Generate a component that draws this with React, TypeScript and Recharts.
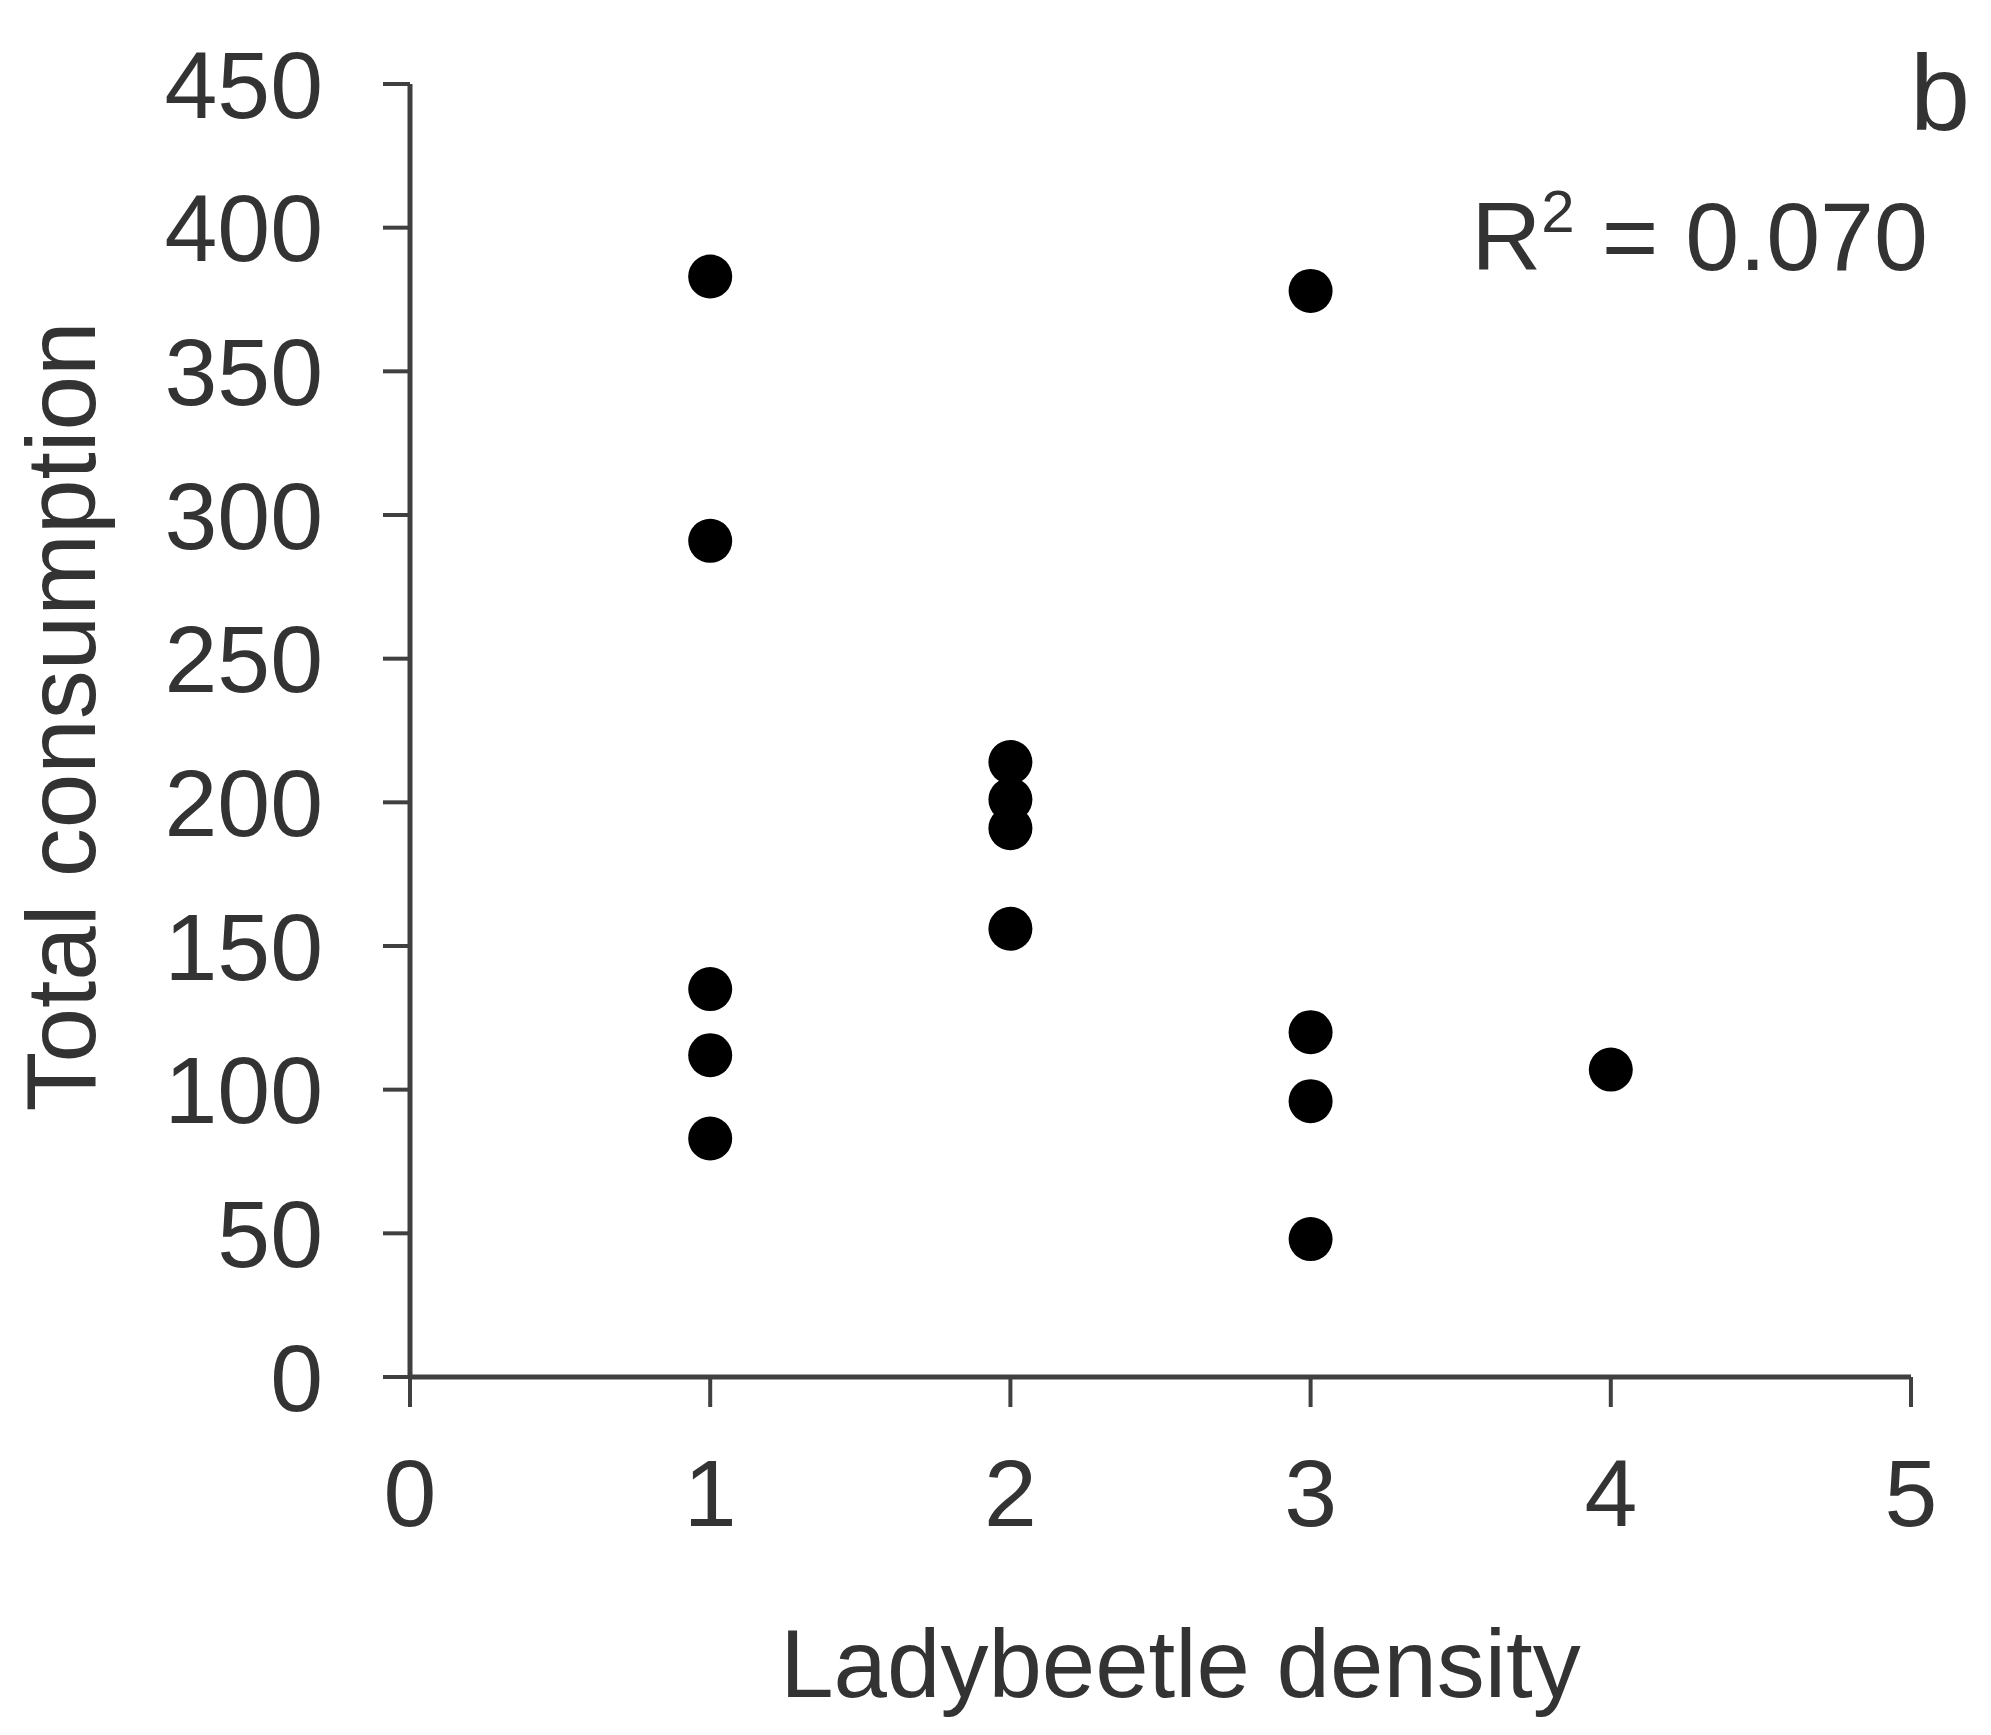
import { ScatterChart, Scatter, XAxis, YAxis, Customized } from "recharts";

const density = [1, 1, 1, 1, 1, 2, 2, 2, 2, 3, 3, 3, 3, 4];
const consumption = [383, 291, 135, 112, 83, 214, 201, 191, 156, 378, 120, 96, 48, 107];
const xTicks = [0, 1, 2, 3, 4, 5];
const yTicks = [0, 50, 100, 150, 200, 250, 300, 350, 400, 450];

const points = density.map((d, i) => ({ density: d, total: consumption[i] }));

const axisColor = "#404040";
const textColor = "#333333";

// presentation attributes were not sticking, so force line widths with css
const css = `
.recharts-cartesian-axis-line { stroke: ${axisColor}; stroke-width: 5px; }
.recharts-cartesian-axis-tick-line { stroke: ${axisColor}; stroke-width: 4px; }
`;

function Annotations() {
  return (
    <g fill={textColor} fontFamily="'Liberation Sans', Arial, sans-serif">
      <text x={1970} y={130} textAnchor="end" fontSize={108}>
        b
      </text>
      <text x={1928} y={270} textAnchor="end" fontSize={97}>
        R
        <tspan fontSize={60} dy={-38}>
          2
        </tspan>
        <tspan dy={38}> = 0.070</tspan>
      </text>
    </g>
  );
}

// rotated y title, drawn from the axis viewBox
function YTitle(props: any) {
  const vb = props.viewBox || {};
  const cx = 60;
  const cy = vb.y + vb.height / 2 - 14;
  return (
    <text
      x={cx}
      y={cy}
      dy="0.355em"
      textAnchor="middle"
      fill={textColor}
      fontSize={98}
      transform={`rotate(-90, ${cx}, ${cy})`}
    >
      Total consumption
    </text>
  );
}

function Dot(props: any) {
  return <circle cx={props.cx} cy={props.cy} r={22} fill="#000000" />;
}

export default function App() {
  return (
    <div
      style={{
        position: "absolute",
        left: 0,
        top: 0,
        background: "#fff",
        fontFamily: "'Liberation Sans', Arial, sans-serif",
      }}
    >
      <style>{css}</style>
      <ScatterChart width={1991} height={1735} margin={{ top: 84, right: 80, bottom: 0, left: 0 }}>
        <XAxis
          type="number"
          dataKey="density"
          domain={[0, 5]}
          ticks={xTicks}
          interval={0}
          height={358}
          stroke={axisColor}
          axisLine={{ stroke: axisColor, strokeWidth: 5 }}
          tickSize={30}
          tickMargin={52}
          tick={{ fill: textColor, fontSize: 95 }}
          tickLine={{ stroke: axisColor, strokeWidth: 4 }}
          label={{
            value: "Ladybeetle density",
            position: "insideBottom",
            offset: 38,
            dx: 20,
            fill: textColor,
            fontSize: 96,
          }}
        />
        <YAxis
          type="number"
          dataKey="total"
          domain={[0, 450]}
          ticks={yTicks}
          interval={0}
          width={410}
          stroke={axisColor}
          axisLine={{ stroke: axisColor, strokeWidth: 5 }}
          tickSize={27}
          tickMargin={60}
          tick={{ fill: textColor, fontSize: 95 }}
          tickLine={{ stroke: axisColor, strokeWidth: 4 }}
          label={<YTitle />}
        />
        <Scatter data={points} shape={Dot} isAnimationActive={false} />
        <Customized component={Annotations} />
      </ScatterChart>
    </div>
  );
}
